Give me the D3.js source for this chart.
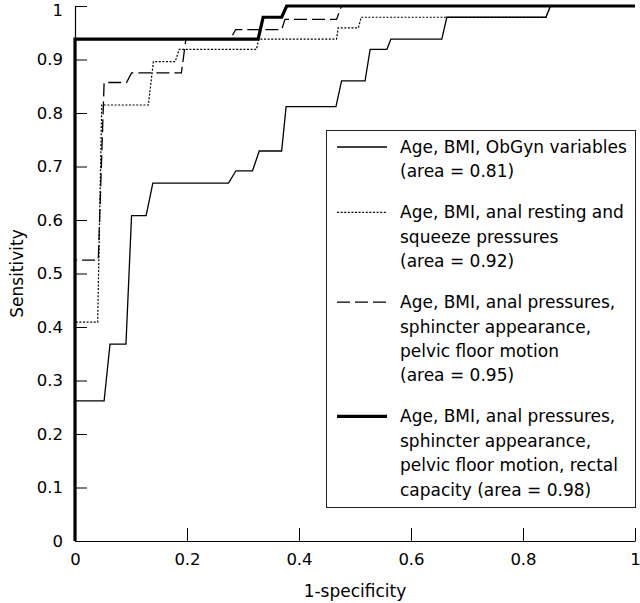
<!DOCTYPE html>
<html>
<head>
<meta charset="utf-8">
<script src="https://cdn.jsdelivr.net/npm/d3@7"></script>
<style>
  html, body { margin: 0; padding: 0; background: #fff; }
  svg { display: block; font-family: "DejaVu Sans", "Liberation Sans", Arial, sans-serif; }
</style>
</head>
<body>
<svg id="chart" width="640" height="603"></svg>
<script>
// ---- data ----
const xTickValues = [0, 0.2, 0.4, 0.6, 0.8, 1];
const xTickLabels = ["0", "0.2", "0.4", "0.6", "0.8", "1"];
const yTickValues = [0, 0.1, 0.2, 0.3, 0.4, 0.5, 0.6, 0.7, 0.8, 0.9, 1];
const yTickLabels = ["0", "0.1", "0.2", "0.3", "0.4", "0.5", "0.6", "0.7", "0.8", "0.9", "1"];

// Model 1: Age, BMI, ObGyn variables (area = 0.81) -- solid thin
const m1X = [0, 0, 0.052, 0.0625, 0.091, 0.101, 0.127, 0.139, 0.274, 0.2875, 0.317, 0.329, 0.369, 0.377, 0.466, 0.476, 0.518, 0.527, 0.557, 0.564, 0.655, 0.664, 0.841, 0.849, 1];
const m1Y = [0, 0.262, 0.262, 0.368, 0.368, 0.608, 0.608, 0.669, 0.669, 0.692, 0.692, 0.729, 0.729, 0.812, 0.812, 0.86, 0.86, 0.919, 0.919, 0.938, 0.938, 0.979, 0.979, 1, 1];

// Model 2: Age, BMI, anal resting and squeeze pressures (area = 0.92) -- dotted
const m2X = [0, 0, 0.0405, 0.0477, 0.131, 0.14, 0.179, 0.186, 0.324, 0.328, 0.467, 0.47, 0.506, 0.511, 0.841, 0.849, 1];
const m2Y = [0, 0.409, 0.409, 0.815, 0.815, 0.896, 0.896, 0.919, 0.919, 0.938, 0.938, 0.959, 0.959, 0.979, 0.979, 1, 1];

// Model 3: + sphincter appearance, pelvic floor motion (area = 0.95) -- dashed
const m3X = [0, 0, 0.0416, 0.052, 0.092, 0.101, 0.19, 0.198, 0.277, 0.287, 0.369, 0.375, 0.467, 0.476, 1];
const m3Y = [0, 0.525, 0.525, 0.857, 0.857, 0.875, 0.875, 0.938, 0.938, 0.956, 0.956, 0.975, 0.975, 1, 1];

// Model 4: + rectal capacity (area = 0.98) -- thick solid
const m4X = [0, 0, 0.327, 0.336, 0.369, 0.378, 1];
const m4Y = [0, 0.938, 0.938, 0.979, 0.979, 1, 1];

const legendLabels = [
  ["Age, BMI, ObGyn variables", "(area = 0.81)"],
  ["Age, BMI, anal resting and", "squeeze pressures", "(area = 0.92)"],
  ["Age, BMI, anal pressures,", "sphincter appearance,", "pelvic floor motion", "(area = 0.95)"],
  ["Age, BMI, anal pressures,", "sphincter appearance,", "pelvic floor motion, rectal", "capacity (area = 0.98)"]
];

// ---- styles ----
const seriesStyle = [
  { width: 1.3, dash: null },
  { width: 1.2, dash: "2,1.6" },
  { width: 1.3, dash: "13,5" },
  { width: 3.2, dash: null }
];

const svg = d3.select("#chart");
const x = d3.scaleLinear().domain([0, 1]).range([75, 635]);
const y = d3.scaleLinear().domain([0, 1]).range([541, 6]);
const FONT = 17;
const TICKFONT = 16.5;

// axes
const xAxis = d3.axisBottom(x).tickValues(xTickValues)
  .tickFormat((d, i) => xTickLabels[i]).tickSizeInner(-13).tickSizeOuter(0).tickPadding(9);
const yAxis = d3.axisLeft(y).tickValues(yTickValues)
  .tickFormat((d, i) => yTickLabels[i]).tickSizeInner(-12).tickSizeOuter(0).tickPadding(12);

const gx = svg.append("g").attr("transform", `translate(0,${y(0)})`).call(xAxis);
const gy = svg.append("g").attr("transform", `translate(${x(0)},0)`).call(yAxis);
[gx, gy].forEach(g => {
  g.selectAll("path.domain").attr("stroke", "#000").attr("stroke-width", 1.2);
  g.selectAll(".tick line").attr("stroke", "#000").attr("stroke-width", 1);
  g.selectAll(".tick text").attr("fill", "#000").style("font-size", TICKFONT + "px")
    .style("font-family", "'DejaVu Sans', 'Liberation Sans', Arial, sans-serif");
});
gx.selectAll(".tick text").attr("dy", "0.9em");
// keep the top label inside the picture
gy.selectAll(".tick text").filter(d => d === 1).attr("dy", "0.55em");

// axis titles
svg.append("text").attr("x", x(0.5)).attr("y", 597).attr("text-anchor", "middle")
  .style("font-size", FONT + "px").text("1-specificity");
svg.append("text").attr("transform", `translate(23,${y(0.5)}) rotate(-90)`)
  .attr("text-anchor", "middle").style("font-size", FONT + "px").text("Sensitivity");

// curves
const series = [[m1X, m1Y], [m2X, m2Y], [m3X, m3Y], [m4X, m4Y]];
const line = d3.line().x(d => x(d[0])).y(d => y(d[1]));
series.forEach((s, i) => {
  const pts = s[0].map((v, k) => [v, s[1][k]]);
  svg.append("path").datum(pts).attr("d", line)
    .attr("fill", "none").attr("stroke", "#000")
    .attr("stroke-width", seriesStyle[i].width)
    .attr("stroke-dasharray", seriesStyle[i].dash)
    .attr("stroke-linejoin", "miter");
});

// legend
const lg = svg.append("g");
const boxL = 326, boxT = 130, boxR = 636, boxB = 508;
lg.append("rect").attr("x", boxL + 0.5).attr("y", boxT + 0.5)
  .attr("width", boxR - boxL - 1).attr("height", boxB - boxT - 1)
  .attr("fill", "#fff").attr("stroke", "#222").attr("stroke-width", 1);
const lineH = 24.4, groupGap = 16.6;
let cy = 147;
legendLabels.forEach((lines, i) => {
  lg.append("line").attr("x1", 337).attr("x2", 387).attr("y1", cy).attr("y2", cy)
    .attr("stroke", "#000").attr("stroke-width", seriesStyle[i].width)
    .attr("stroke-dasharray", seriesStyle[i].dash);
  lines.forEach((t, k) => {
    lg.append("text").attr("x", 400).attr("y", cy + k * lineH).attr("dy", "0.35em")
      .style("font-size", FONT + "px").attr("fill", "#000").text(t);
  });
  cy += lines.length * lineH + groupGap;
});
</script>
</body>
</html>
